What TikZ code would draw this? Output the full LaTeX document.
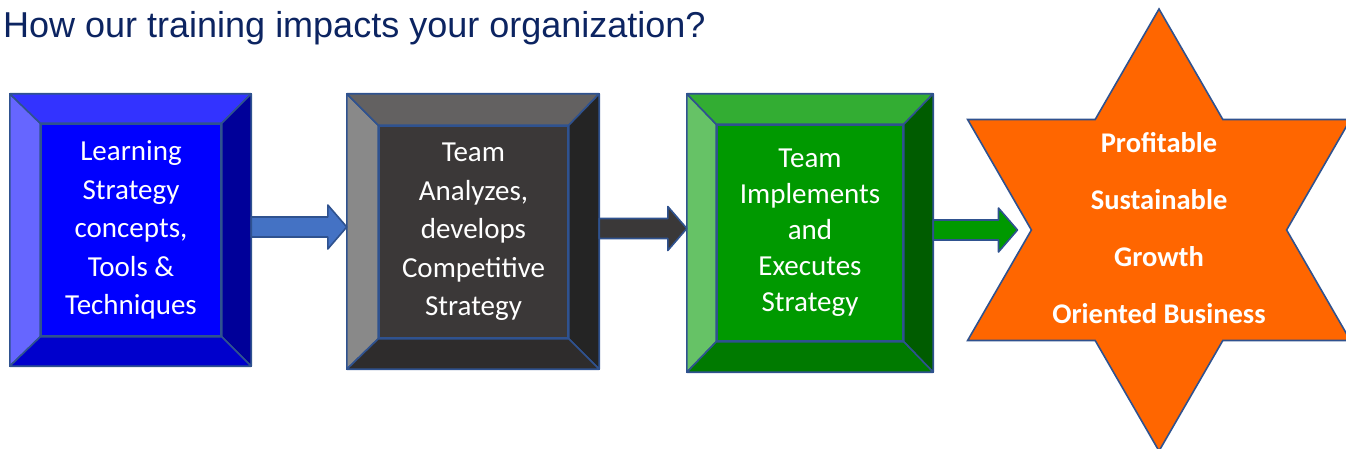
\documentclass[tikz,border=0pt]{standalone}
\usepackage{fontspec}
\usetikzlibrary{calc,shapes.geometric}
\newfontfamily\boxfont{Carlito}
\newfontfamily\titlefont{Liberation Sans}

\definecolor{edge}{HTML}{2F528F}
\definecolor{titleblue}{HTML}{0C2461}
% blue box
\definecolor{blueL}{HTML}{6666FF}
\definecolor{blueT}{HTML}{3333FF}
\definecolor{blueC}{HTML}{0000FF}
\definecolor{blueR}{HTML}{000099}
\definecolor{blueB}{HTML}{0000CC}
% gray box
\definecolor{grayL}{HTML}{898989}
\definecolor{grayT}{HTML}{636161}
\definecolor{grayC}{HTML}{3B3838}
\definecolor{grayR}{HTML}{242424}
\definecolor{grayB}{HTML}{2E2C2C}
% green box
\definecolor{greenL}{HTML}{66C266}
\definecolor{greenT}{HTML}{33AD33}
\definecolor{greenC}{HTML}{009900}
\definecolor{greenR}{HTML}{005C00}
\definecolor{greenB}{HTML}{007A00}
% arrows and star
\definecolor{arrowblue}{HTML}{4472C4}
\definecolor{arrowgray}{HTML}{3A3838}
\definecolor{arrowgreen}{HTML}{009900}
\definecolor{goalorange}{HTML}{FF6600}

\tikzset{
    outerbox/.style={rectangle, inner sep=0pt},
    innerbox/.style={rectangle, draw=edge, line width=1.6pt, inner sep=0pt, text=white, align=center,
        font=\boxfont\fontsize{29}{38.5}\selectfont},
    bevel/.style={draw=edge, line width=1.6pt, line join=round},
}

\begin{document}
\begin{tikzpicture}[x=1pt, y=-1pt]
    \useasboundingbox (0,0) rectangle (1346,449);
    \clip (0,0) rectangle (1346,449);

    \node[anchor=base west, inner sep=0pt, text=titleblue, font=\titlefont\fontsize{36}{42}\selectfont] (title) at (3,38) {How our training impacts your organization?};

    % the three bevelled boxes
    \node[outerbox, minimum width=241pt, minimum height=272pt] (learn) at (130.5,230) {};
    \node[innerbox, fill=blueC, minimum width=180pt, minimum height=212pt] (learn-in) at (131,230) {Learning\\Strategy\\concepts,\\Tools \&\\Techniques};

    \node[outerbox, minimum width=252pt, minimum height=275pt] (analyze) at (473,231.5) {};
    \node[innerbox, fill=grayC, minimum width=189pt, minimum height=212pt] (analyze-in) at (473.5,232) {Team\\Analyzes,\\develops\\Competitive\\Strategy};

    \node[outerbox, minimum width=246pt, minimum height=278pt] (implement) at (810,233) {};
    \node[innerbox, fill=greenC, minimum width=186pt, minimum height=216pt, font=\boxfont\fontsize{29}{36}\selectfont] (implement-in) at (810,233) {Team\\Implements\\and\\Executes\\Strategy};

    \foreach \n/\cl/\ct/\cr/\cb in {learn/blueL/blueT/blueR/blueB, analyze/grayL/grayT/grayR/grayB, implement/greenL/greenT/greenR/greenB} {
        \filldraw[bevel, fill=\cl] (\n.north west) -- (\n-in.north west) -- (\n-in.south west) -- (\n.south west) -- cycle;
        \filldraw[bevel, fill=\ct] (\n.north west) -- (\n.north east) -- (\n-in.north east) -- (\n-in.north west) -- cycle;
        \filldraw[bevel, fill=\cr] (\n.north east) -- (\n.south east) -- (\n-in.south east) -- (\n-in.north east) -- cycle;
        \filldraw[bevel, fill=\cb] (\n.south west) -- (\n.south east) -- (\n-in.south east) -- (\n-in.south west) -- cycle;
    }

    % the goal
    \node[star, star points=6, star point ratio=1.732, minimum size=442pt, inner sep=0pt, draw=edge, line width=1.6pt, fill=goalorange] (goal) at (1159,230) {};
    \node[text=white, align=center, font=\boxfont\bfseries\fontsize{28.5}{57}\selectfont] (goal-text) at (1159,228) {Profitable\\Sustainable\\Growth\\Oriented Business};

    % block arrows
    \foreach \a/\b/\c/\d in {learn/analyze/arrowblue/0, analyze/implement/arrowgray/0, implement/goal/arrowgreen/13} {
        \coordinate (s) at ($(\a.east)+(0,-3)$);
        \coordinate (t) at ($(\b.west |- s)+(-\d,0)$);
        \filldraw[bevel, fill=\c] ($(s)+(0,-10)$) -- ($(t)+(-19,-10)$) -- ($(t)+(-19,-22)$) -- (t)
            -- ($(t)+(-19,22)$) -- ($(t)+(-19,10)$) -- ($(s)+(0,10)$) -- cycle;
    }
\end{tikzpicture}
\end{document}
